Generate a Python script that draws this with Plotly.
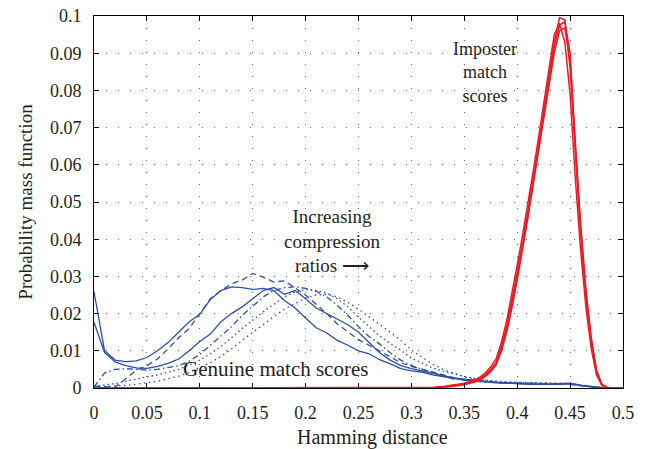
import plotly.graph_objects as go

# ---------------- data ----------------
x_genuine = [0.00, 0.01, 0.02, 0.03, 0.04, 0.05, 0.06, 0.07, 0.08, 0.09,
             0.10, 0.11, 0.12, 0.13, 0.14, 0.15, 0.16, 0.17, 0.18, 0.19,
             0.20, 0.21, 0.22, 0.23, 0.24, 0.25, 0.26, 0.27, 0.28, 0.29,
             0.30, 0.31, 0.32, 0.33, 0.34, 0.35, 0.36, 0.37, 0.38, 0.39,
             0.40, 0.41, 0.42, 0.43, 0.44, 0.45, 0.46, 0.47, 0.48, 0.49, 0.50]

genuine_solid_a = [0.0259, 0.0100, 0.0075, 0.0071, 0.0073, 0.0082, 0.0100, 0.0122, 0.0150, 0.0178,
                   0.0198, 0.0238, 0.0262, 0.0272, 0.0270, 0.0265, 0.0268, 0.0262, 0.0235, 0.0215,
                   0.0188, 0.0162, 0.0148, 0.0128, 0.0115, 0.0100, 0.0092, 0.0076, 0.0065, 0.0052,
                   0.0046, 0.0043, 0.0035, 0.0030, 0.0024, 0.0021, 0.0019, 0.0016, 0.0014, 0.0013,
                   0.0012, 0.0011, 0.0011, 0.0010, 0.0012, 0.0013, 0.0007, 0.0003, 0.0001, 0.0, 0.0]

genuine_solid_b = [0.0177, 0.0095, 0.0070, 0.0060, 0.0054, 0.0053, 0.0058, 0.0066, 0.0078, 0.0100,
                   0.0125, 0.0145, 0.0178, 0.0200, 0.0218, 0.0240, 0.0262, 0.0270, 0.0252, 0.0262,
                   0.0240, 0.0215, 0.0200, 0.0185, 0.0170, 0.0150, 0.0122, 0.0095, 0.0075, 0.0060,
                   0.0052, 0.0045, 0.0038, 0.0033, 0.0027, 0.0023, 0.0020, 0.0017, 0.0015, 0.0013,
                   0.0012, 0.0010, 0.0010, 0.0009, 0.0010, 0.0011, 0.0006, 0.0003, 0.0001, 0.0, 0.0]

genuine_dash = [0.0005, 0.0003, 0.0002, 0.0025, 0.0048, 0.0060, 0.0078, 0.0105, 0.0135, 0.0160,
                0.0200, 0.0240, 0.0262, 0.0280, 0.0290, 0.0308, 0.0298, 0.0285, 0.0288, 0.0270,
                0.0250, 0.0225, 0.0200, 0.0172, 0.0150, 0.0130, 0.0115, 0.0100, 0.0085, 0.0068,
                0.0058, 0.0050, 0.0042, 0.0035, 0.0028, 0.0023, 0.0020, 0.0018, 0.0015, 0.0013,
                0.0012, 0.0011, 0.0010, 0.0010, 0.0011, 0.0012, 0.0006, 0.0003, 0.0001, 0.0, 0.0]

genuine_dashdot = [0.0003, 0.0040, 0.0050, 0.0052, 0.0050, 0.0048, 0.0050, 0.0055, 0.0060, 0.0072,
                   0.0090, 0.0115, 0.0140, 0.0165, 0.0195, 0.0220, 0.0245, 0.0262, 0.0270, 0.0272,
                   0.0268, 0.0260, 0.0245, 0.0222, 0.0195, 0.0165, 0.0138, 0.0118, 0.0095, 0.0075,
                   0.0060, 0.0050, 0.0040, 0.0032, 0.0024, 0.0020, 0.0018, 0.0016, 0.0015, 0.0014,
                   0.0013, 0.0012, 0.0011, 0.0010, 0.0010, 0.0010, 0.0006, 0.0003, 0.0001, 0.0, 0.0]

genuine_dot_a = [0.0005, 0.0008, 0.0012, 0.0018, 0.0025, 0.0030, 0.0035, 0.0042, 0.0050, 0.0062,
                 0.0075, 0.0092, 0.0112, 0.0135, 0.0160, 0.0182, 0.0205, 0.0225, 0.0245, 0.0258,
                 0.0265, 0.0262, 0.0255, 0.0240, 0.0218, 0.0190, 0.0165, 0.0140, 0.0120, 0.0102,
                 0.0080, 0.0066, 0.0054, 0.0045, 0.0038, 0.0030, 0.0025, 0.0021, 0.0018, 0.0016,
                 0.0015, 0.0014, 0.0013, 0.0012, 0.0012, 0.0011, 0.0007, 0.0003, 0.0001, 0.0, 0.0]

genuine_dot_b = [0.0003, 0.0004, 0.0005, 0.0007, 0.0010, 0.0013, 0.0018, 0.0025, 0.0032, 0.0042,
                 0.0055, 0.0068, 0.0085, 0.0105, 0.0128, 0.0150, 0.0172, 0.0192, 0.0212, 0.0228,
                 0.0242, 0.0250, 0.0252, 0.0245, 0.0230, 0.0212, 0.0192, 0.0170, 0.0150, 0.0128,
                 0.0102, 0.0083, 0.0064, 0.0050, 0.0040, 0.0030, 0.0024, 0.0020, 0.0018, 0.0016,
                 0.0015, 0.0014, 0.0014, 0.0013, 0.0013, 0.0013, 0.0008, 0.0004, 0.0001, 0.0, 0.0]

x_imposter = [0.00, 0.30, 0.32, 0.33, 0.34, 0.35, 0.36, 0.365, 0.37, 0.375,
              0.38, 0.385, 0.39, 0.395, 0.40, 0.405, 0.41, 0.415, 0.42, 0.425,
              0.43, 0.435, 0.44, 0.445, 0.45, 0.455, 0.46, 0.465, 0.47, 0.475,
              0.48, 0.485, 0.49, 0.50]

imposter_1 = [0.0, 0.0, 0.0001, 0.0003, 0.0006, 0.0011, 0.0019, 0.0026, 0.0036, 0.0050,
              0.0068, 0.0110, 0.0165, 0.0235, 0.0310, 0.0390, 0.0470, 0.0560, 0.0650, 0.0740,
              0.0835, 0.0930, 0.0995, 0.0990, 0.0860, 0.0620, 0.0410, 0.0240, 0.0120, 0.0040,
              0.0008, 0.0001, 0.0, 0.0]

imposter_2 = [0.0, 0.0, 0.0001, 0.0002, 0.0005, 0.0009, 0.0016, 0.0022, 0.0031, 0.0044,
              0.0062, 0.0098, 0.0150, 0.0215, 0.0290, 0.0370, 0.0455, 0.0545, 0.0635, 0.0725,
              0.0815, 0.0900, 0.0960, 0.0968, 0.0880, 0.0660, 0.0440, 0.0265, 0.0135, 0.0048,
              0.0010, 0.0002, 0.0, 0.0]

imposter_3 = [0.0, 0.0, 0.0001, 0.0004, 0.0008, 0.0013, 0.0022, 0.0030, 0.0041, 0.0057,
              0.0078, 0.0122, 0.0180, 0.0252, 0.0330, 0.0410, 0.0492, 0.0580, 0.0670, 0.0762,
              0.0860, 0.0950, 0.0980, 0.0930, 0.0790, 0.0560, 0.0370, 0.0215, 0.0105, 0.0035,
              0.0007, 0.0001, 0.0, 0.0]

imposter_4 = [0.0, 0.0, 0.0001, 0.0003, 0.0006, 0.0010, 0.0018, 0.0025, 0.0034, 0.0047,
              0.0065, 0.0105, 0.0158, 0.0228, 0.0302, 0.0382, 0.0462, 0.0552, 0.0642, 0.0732,
              0.0825, 0.0915, 0.0975, 0.0985, 0.0900, 0.0640, 0.0425, 0.0250, 0.0128, 0.0045,
              0.0009, 0.0001, 0.0, 0.0]

x_tick_vals = [0, 0.05, 0.1, 0.15, 0.2, 0.25, 0.3, 0.35, 0.4, 0.45, 0.5]
x_tick_text = ["0", "0.05", "0.1", "0.15", "0.2", "0.25", "0.3", "0.35", "0.4", "0.45", "0.5"]
y_tick_vals = [0, 0.01, 0.02, 0.03, 0.04, 0.05, 0.06, 0.07, 0.08, 0.09, 0.1]
y_tick_text = ["0", "0.01", "0.02", "0.03", "0.04", "0.05", "0.06", "0.07", "0.08", "0.09", "0.1"]

# ---------------- styling ----------------
BLUE = "#2f4fa6"
RED = "#ec1c24"
FONT = "Liberation Serif"
TXT = "#231f20"

genuine_series = [
    (genuine_solid_a, "solid"),
    (genuine_solid_b, "solid"),
    (genuine_dash, "6px,4px"),
    (genuine_dashdot, "6px,3px,1.5px,3px"),
    (genuine_dot_a, "1.5px,3px"),
    (genuine_dot_b, "1.5px,3.5px"),
]
imposter_series = [imposter_2, imposter_3, imposter_4, imposter_1]

fig = go.Figure()
for ys, dash in genuine_series:
    fig.add_trace(go.Scatter(x=x_genuine, y=ys, mode="lines",
                             line=dict(color=BLUE, width=1.3, dash=dash),
                             showlegend=False, hoverinfo="skip"))
for ys in imposter_series:
    fig.add_trace(go.Scatter(x=x_imposter, y=ys, mode="lines",
                             line=dict(color=RED, width=1.5),
                             showlegend=False, hoverinfo="skip"))

axis_common = dict(
    showline=True, linecolor="black", linewidth=1, mirror="ticks",
    ticks="inside", ticklen=5, tickwidth=1, tickcolor="black",
    showgrid=True, gridcolor="#666666", gridwidth=1, griddash="1px,11px",
    zeroline=False, tickfont=dict(family=FONT, size=18, color=TXT),
    ticklabelstandoff=8, automargin=False,
)

fig.update_xaxes(range=[0, 0.5], tickvals=x_tick_vals, ticktext=x_tick_text, **axis_common)
fig.update_yaxes(range=[0, 0.1], tickvals=y_tick_vals, ticktext=y_tick_text,
                 title=dict(text="Probability mass function", font=dict(family=FONT, size=19, color=TXT), standoff=12),
                 **axis_common)

# x-axis title (placed as in the reference, slightly right of axis centre)
fig.add_annotation(x=0.527, y=-0.134, xref="paper", yref="paper", text="Hamming distance",
                   showarrow=False, xanchor="center", yanchor="middle",
                   font=dict(family=FONT, size=20, color=TXT))

annotations = [
    ("Imposter<br>match<br>scores", 0.3696, 0.0849, 18),
    ("Increasing<br>compression<br>ratios \u27f6", 0.2250, 0.0395, 19),
    ("Genuine match scores", 0.1711, 0.0051, 21),
]
for text, ax, ay, fs in annotations:
    fig.add_annotation(x=ax, y=ay, text=text, showarrow=False,
                       xanchor="center", yanchor="middle", align="center",
                       font=dict(family=FONT, size=fs, color=TXT))

fig.update_layout(
    width=645, height=449,
    margin=dict(l=94, r=22, t=16, b=61),
    plot_bgcolor="white", paper_bgcolor="white",
    showlegend=False,
)

fig.write_html("out.html")
